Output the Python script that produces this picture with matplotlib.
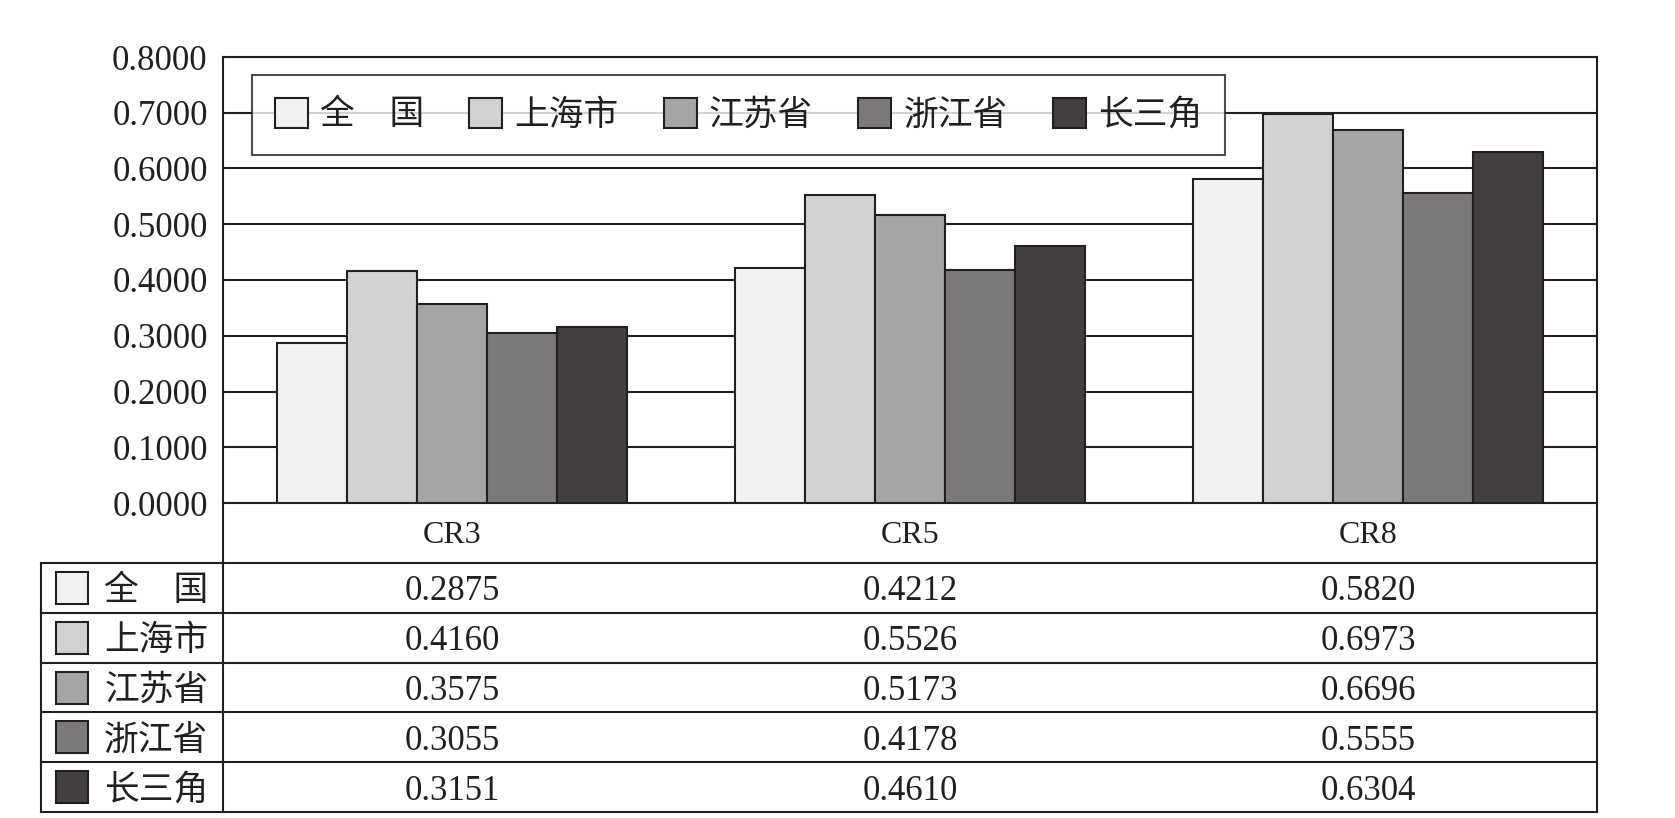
import matplotlib
matplotlib.use("Agg")
import matplotlib.pyplot as plt
import matplotlib.transforms as mtransforms
from matplotlib.patches import Rectangle
import numpy as np

plt.rcParams['font.family'] = ['Liberation Serif', 'Noto Sans CJK SC']

# data
categories = ["CR3", "CR5", "CR8"]
regions = ["全\u3000国", "上海市", "江苏省", "浙江省", "长三角"]
quanguo = [0.2875, 0.4212, 0.5820]
shanghai = [0.4160, 0.5526, 0.6973]
jiangsu = [0.3575, 0.5173, 0.6696]
zhejiang = [0.3055, 0.4178, 0.5555]
changsanjiao = [0.3151, 0.4610, 0.6304]
series = [quanguo, shanghai, jiangsu, zhejiang, changsanjiao]
colors = ["#f2f2f2", "#d2d2d2", "#a6a5a6", "#7b797a", "#433f40"]
yticks = np.arange(0, 0.81, 0.1)

W, H = 1675, 818
ink = "#231f20"
lw = 1.5
fs = 25

fig = plt.figure(figsize=(W / 100, H / 100), dpi=100)

# main plot area
ax = fig.add_axes([223 / W, 1 - 503 / H, 1374 / W, (503 - 57) / H])
x = np.arange(len(categories))
bw = 0.153
for k, vals in enumerate(series):
    ax.bar(x + (k - 2) * bw, vals, bw, color=colors[k], edgecolor=ink,
           linewidth=lw, label=regions[k], zorder=3)

ax.set_xlim(-0.5, len(categories) - 0.5)
ax.set_ylim(0, 0.8)
ax.set_yticks(yticks)
ax.set_yticklabels([f"{v:.4f}" for v in yticks], fontsize=fs, color=ink)
ax.set_xticks(x)
ax.set_xticklabels(categories, fontsize=23, color=ink)
ax.tick_params(axis='y', length=0, pad=11)
ax.tick_params(axis='x', length=0, pad=13)
ax.grid(axis='y', color=ink, linewidth=lw, zorder=0)
ax.set_axisbelow(True)
for s in ax.spines.values():
    s.set_color(ink)
    s.set_linewidth(lw)

leg = ax.legend(loc='upper left', bbox_to_anchor=((252 - 223) / 1374, 1 - (75 - 57) / 446),
                ncol=5, fontsize=fs, frameon=True, fancybox=False,
                handlelength=0.95, handleheight=0.95, handletextpad=0.35,
                columnspacing=1.3, borderpad=0.65, borderaxespad=0)
leg.get_frame().set_edgecolor(ink)
leg.get_frame().set_linewidth(lw)
for t in leg.get_texts():
    t.set_color(ink)

# data table below
tab = fig.add_axes([223 / W, 1 - 812 / H, 1374 / W, (812 - 563) / H])
tab.set_xlim(-0.5, len(categories) - 0.5)
tab.set_ylim(len(regions), 0)
tab.axis('off')
blend = mtransforms.blended_transform_factory(tab.transAxes, tab.transData)
left = (41 - 223) / 1374
for i in range(len(regions) + 1):
    tab.plot([left, 1], [i, i], color=ink, linewidth=lw, transform=blend, clip_on=False)
tab.plot([left, left], [0, len(regions)], color=ink, linewidth=lw, transform=blend, clip_on=False)
top = (812 - 503) / (812 - 563)
for xf in (0, 1):
    tab.plot([xf, xf], [0, top], color=ink, linewidth=lw, transform=tab.transAxes, clip_on=False)

sq_w = 32 / 1374
sq_h = 32 / ((812 - 563) / len(regions))
for i, name in enumerate(regions):
    tab.add_patch(Rectangle(((56 - 223) / 1374, i + 0.5 - sq_h / 2), sq_w, sq_h,
                            facecolor=colors[i], edgecolor=ink, linewidth=lw,
                            transform=blend, clip_on=False))
    tab.text((104 - 223) / 1374, i + 0.5, name, fontsize=fs, color=ink,
             ha='left', va='center_baseline', transform=blend)
    for j in range(len(categories)):
        tab.text(x[j], i + 0.5, f"{series[i][j]:.4f}", fontsize=fs, color=ink,
                 ha='center', va='center_baseline')

fig.savefig("out.png", dpi=100, facecolor="white")
